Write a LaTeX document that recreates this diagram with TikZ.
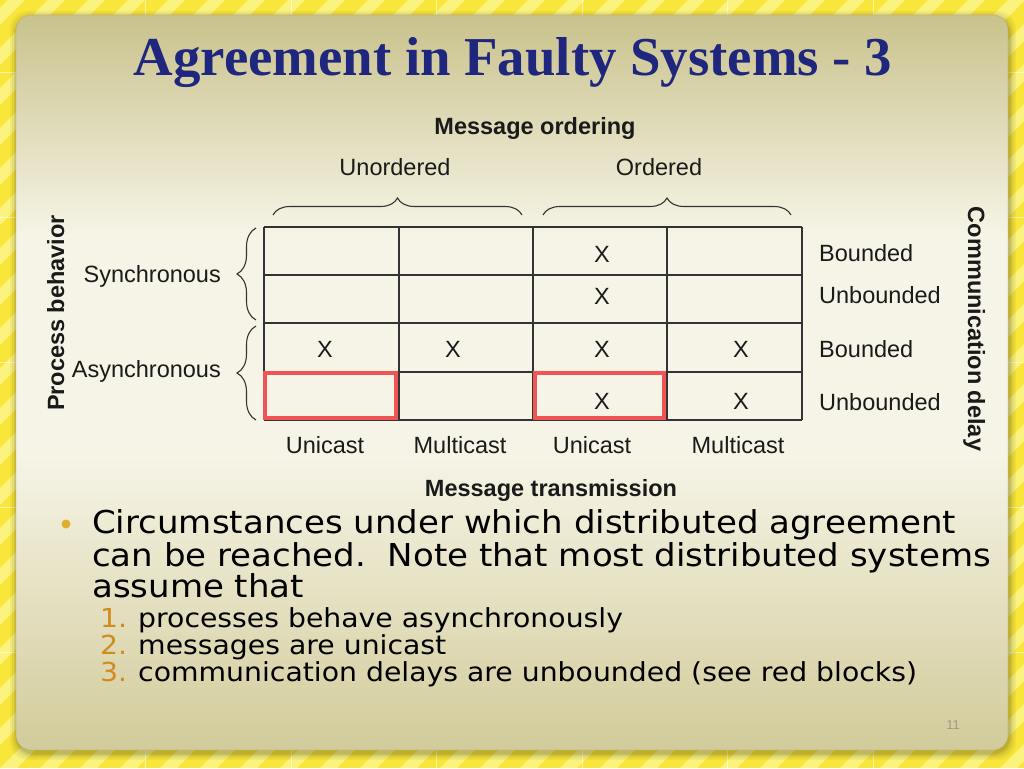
\documentclass[tikz,border=0pt]{standalone}
\usepackage{fontspec}
\setmainfont{Liberation Sans}
\newfontfamily\titlefont{Liberation Serif}
\newfontfamily\verd[FakeStretch=1.08]{DejaVu Sans}
\usetikzlibrary{decorations.pathreplacing}
\definecolor{bgyellow}{HTML}{F8E63A}
\definecolor{stripey}{HTML}{FCF27E}
\definecolor{ptop}{HTML}{C9C28C}
\definecolor{pmid}{HTML}{F6F4E6}
\definecolor{pbot}{HTML}{D2CB9A}
\definecolor{titleblue}{HTML}{1E267D}
\definecolor{inkc}{HTML}{1A1A1A}
\definecolor{gridc}{HTML}{333333}
\definecolor{redbox}{HTML}{F05454}
\definecolor{goldc}{HTML}{E0B02C}
\definecolor{numc}{HTML}{D08A1E}
\definecolor{pagec}{HTML}{A09C84}
\pgfdeclareverticalshading{panelsh}{100bp}{color(0bp)=(pbot); color(25bp)=(pbot); color(45bp)=(pmid); color(60bp)=(pmid); color(75bp)=(ptop); color(100bp)=(ptop)}
\tikzset{
  lbl/.style={font=\fontsize{23.5}{26}\selectfont, text=inkc, inner sep=0},
  blbl/.style={font=\bfseries\fontsize{23.5}{26}\selectfont, text=inkc, inner sep=0},
  xmark/.style={font=\fontsize{23.5}{26}\selectfont, text=inkc, inner sep=0},
  gridline/.style={draw=gridc, line width=1.5pt},
  redrect/.style={draw=redbox, line width=3.5pt},
  bracestyle/.style={draw=gridc, line width=1.1pt, decorate, decoration={brace, amplitude=#1}},
  bullettext/.style={font=\verd\fontsize{31.5}{32}\selectfont, text=black, inner sep=0, anchor=base west},
  subtext/.style={font=\verd\fontsize{26.2}{27}\selectfont, text=black, inner sep=0, anchor=base west},
  subnum/.style={font=\verd\fontsize{26.2}{27}\selectfont, text=numc, inner sep=0, anchor=base west},
  bggrid/.style={draw=white, opacity=0.55, line width=0.8pt}
}
\begin{document}
\begin{tikzpicture}[x=1pt,y=-1pt]
\useasboundingbox (0,0) rectangle (1024,768);
% background
\fill[bgyellow] (0,0) rectangle (1024,768);
\begin{scope}
  \clip (0,0) rectangle (1024,768);
  \foreach \i in {-800,-760,...,1040}
    \fill[stripey] (\i,768) -- ++(17,0) -- ++(768,-768) -- ++(-17,0) -- cycle;
  \foreach \x in {145.5,291,436.5,582,727.5,873}
    \draw[bggrid] (\x,0) -- (\x,768);
  \foreach \y in {72,217,362,507,652}
    \draw[bggrid] (0,\y) -- (1024,\y);
\end{scope}
% shadow
\foreach \k/\o in {7/0.04,5/0.05,3/0.07,1.5/0.09}
  \fill[black, opacity=\o, rounded corners=18] (16-\k+1,15-\k+3) rectangle (1008+\k+1,750+\k+3);
% panel
\shade[rounded corners=15, shading=panelsh] (16,15) rectangle (1008,750);
\draw[rounded corners=15, draw=ptop!80!black, opacity=0.35, line width=0.6pt] (16,15) rectangle (1008,750);
% title
\node[font=\titlefont\bfseries\fontsize{54.8}{60}\selectfont, text=titleblue, anchor=base, inner sep=0] (title) at (513,75) {Agreement in Faulty Systems - 3};
% headings
\node[blbl, anchor=base] (msgord) at (535,134) {Message ordering};
\node[lbl, anchor=base] (unord) at (395,175) {Unordered};
\node[lbl, anchor=base] (ord) at (659,175) {Ordered};
\node[blbl, anchor=base, rotate=90] (procb) at (64,313) {Process behavior};
\node[blbl, anchor=base, rotate=-90] (commd) at (968,329) {Communication delay};
\node[lbl, anchor=base east] (sync) at (221,282) {Synchronous};
\node[lbl, anchor=base east] (async) at (221,377) {Asynchronous};
\node[lbl, anchor=base west] (b1) at (819,261) {Bounded};
\node[lbl, anchor=base west] (u1) at (819,303) {Unbounded};
\node[lbl, anchor=base west] (b2) at (819,357) {Bounded};
\node[lbl, anchor=base west] (u2) at (819,410) {Unbounded};
\node[lbl, anchor=base] (uc1) at (325,453) {Unicast};
\node[lbl, anchor=base] (mc1) at (460,453) {Multicast};
\node[lbl, anchor=base] (uc2) at (592,453) {Unicast};
\node[lbl, anchor=base] (mc2) at (738,453) {Multicast};
\node[blbl, anchor=base] (msgtr) at (551,496) {Message transmission};
% braces
\coordinate (tb1a) at (273,215); \coordinate (tb1b) at (522,215);
\coordinate (tb2a) at (543,215); \coordinate (tb2b) at (791,215);
\coordinate (lb1a) at (256,320); \coordinate (lb1b) at (256,228);
\coordinate (lb2a) at (256,420); \coordinate (lb2b) at (256,326);
\draw[bracestyle=17] (tb1a) -- (tb1b);
\draw[bracestyle=17] (tb2a) -- (tb2b);
\draw[bracestyle=19] (lb1a) -- (lb1b);
\draw[bracestyle=19] (lb2a) -- (lb2b);
% table grid
\foreach \x in {264,399,533,667,802}
  \draw[gridline] (\x,227) -- (\x,420);
\foreach \y in {227,275,323,372,420}
  \draw[gridline] (264,\y) -- (802,\y);
% red blocks
\draw[redrect] (265,373) rectangle (396,418);
\draw[redrect] (535,373) rectangle (664,418);
% X marks
\node[xmark] (x13) at (602,254) {X};
\node[xmark] (x23) at (602,296) {X};
\node[xmark] (x31) at (325,349) {X};
\node[xmark] (x32) at (453,349) {X};
\node[xmark] (x33) at (602,349) {X};
\node[xmark] (x34) at (741,349) {X};
\node[xmark] (x43) at (602,401) {X};
\node[xmark] (x44) at (741,401) {X};
% bullet text
\node[circle, fill=goldc, inner sep=0, minimum size=9pt] (bul) at (66,524) {};
\node[bullettext] (l1) at (92,533) {Circumstances under which distributed agreement};
\node[bullettext] (l2) at (92,566) {can be reached.\ \ Note that most distributed systems};
\node[bullettext] (l3) at (92,597) {assume that};
\node[subnum] (n1) at (100,627) {1.};
\node[subnum] (n2) at (100,654) {2.};
\node[subnum] (n3) at (100,681) {3.};
\node[subtext] (s1) at (138,627) {processes behave asynchronously};
\node[subtext] (s2) at (138,654) {messages are unicast};
\node[subtext] (s3) at (138,681) {communication delays are unbounded (see red blocks)};
\node[font=\fontsize{13}{14}\selectfont, text=pagec, anchor=base, inner sep=0] (pg) at (953,729) {11};
\end{tikzpicture}
\end{document}
